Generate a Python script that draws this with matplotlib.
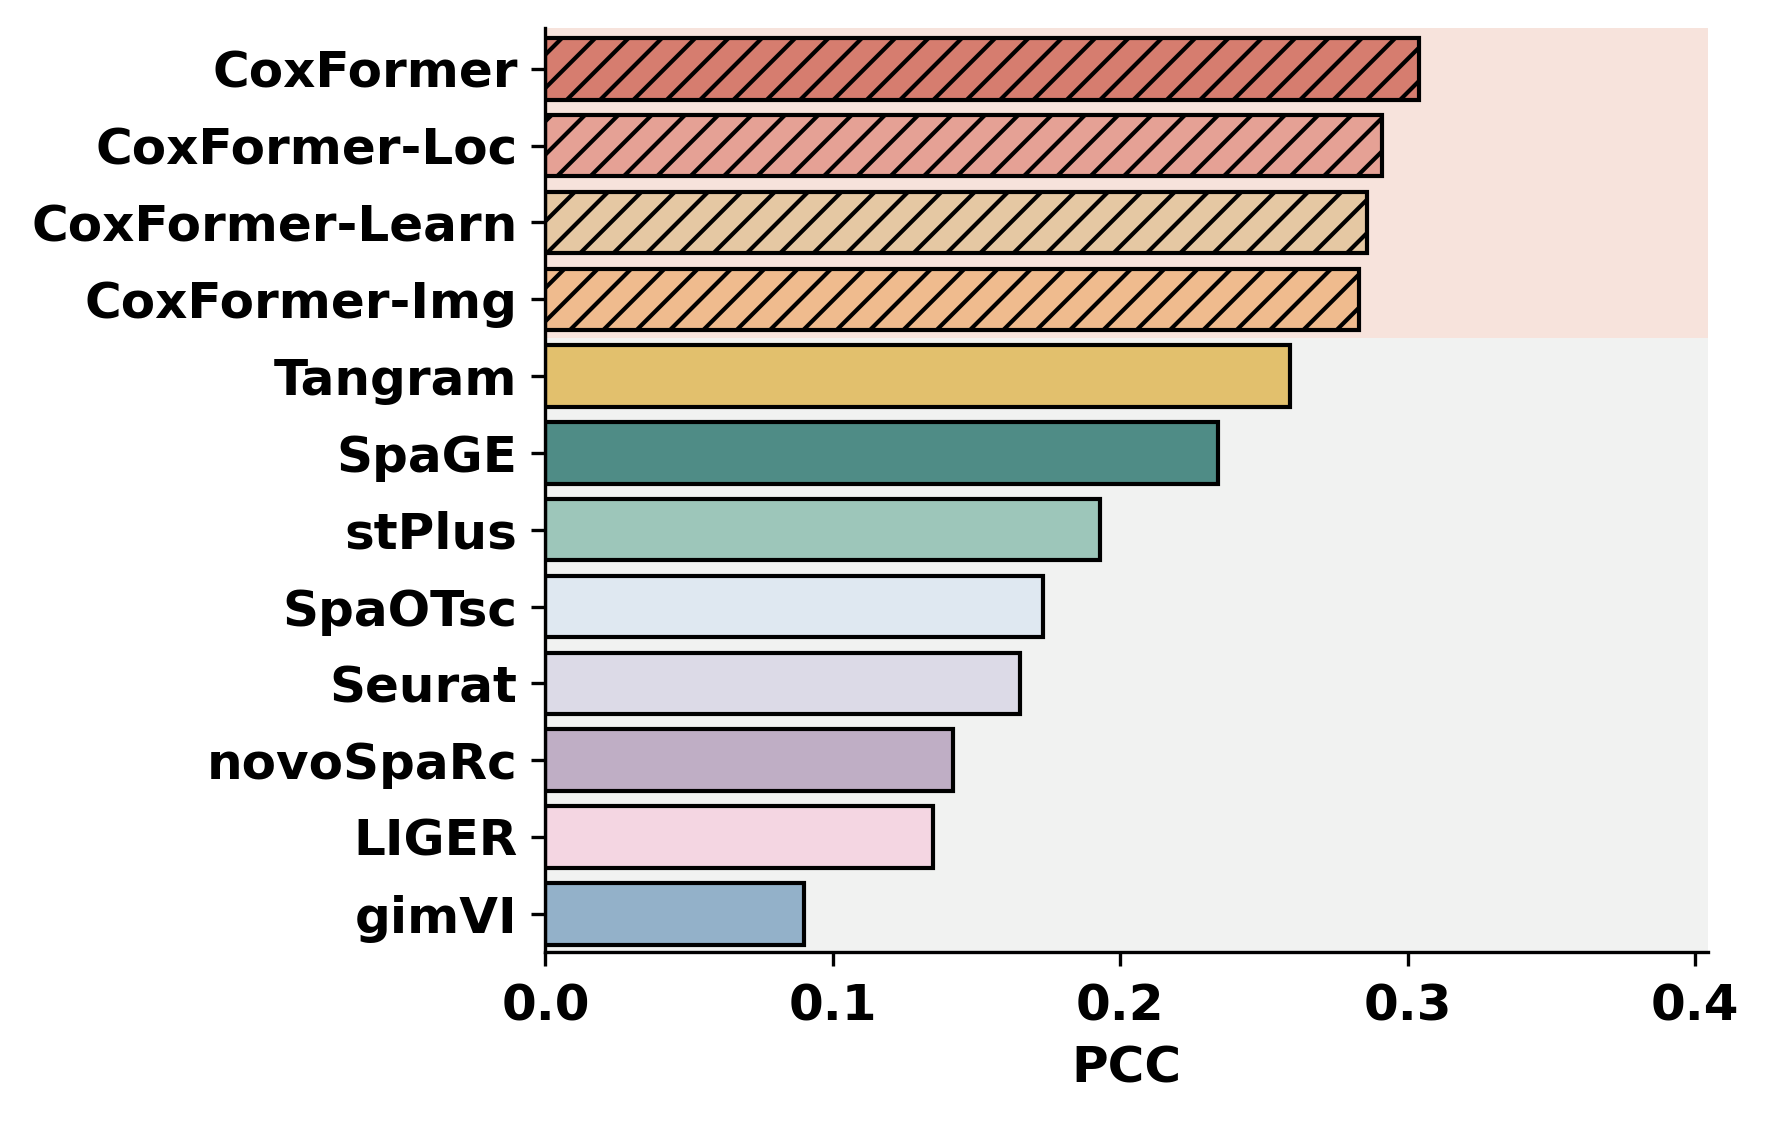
import matplotlib
matplotlib.use("Agg")
import matplotlib.pyplot as plt

methods = ["CoxFormer", "CoxFormer-Loc", "CoxFormer-Learn", "CoxFormer-Img",
           "Tangram", "SpaGE", "stPlus", "SpaOTsc", "Seurat", "novoSpaRc",
           "LIGER", "gimVI"]
pcc = [0.304, 0.291, 0.286, 0.283, 0.259, 0.234, 0.193, 0.173, 0.165, 0.142, 0.135, 0.090]
colors = ["#D67D6F", "#E5A195", "#E5C8A3", "#EFBB8E", "#E2C06D", "#4F8C86",
          "#9DC6BA", "#DFE8F1", "#DCDAE7", "#BFAEC5", "#F4D6E2", "#93B1C9"]
n_ours = 4

plt.rcParams.update({
    "font.family": "DejaVu Sans",
    "font.weight": "bold",
    "font.size": 18,
    "hatch.linewidth": 1.5,
})

fig = plt.figure(figsize=(1771 / 200, 1125 / 200), dpi=200)
ax = fig.add_axes([0.308, 0.1536, 0.9643 - 0.308, 0.975 - 0.1536])

pos = list(range(len(methods)))
ax.axhspan(-0.6, n_ours - 0.5, color="#F7E3DC", zorder=0, lw=0)
ax.axhspan(n_ours - 0.5, len(methods), color="#F1F2F1", zorder=0, lw=0)

for i, (m, v, c) in enumerate(zip(methods, pcc, colors)):
    ax.barh(i, v, height=0.8, color=c, edgecolor="black", linewidth=1.5,
            hatch="//" if i < n_ours else None, zorder=2)

ax.set_yticks(pos)
ax.set_yticklabels(methods, fontweight="bold")
ax.set_ylim(len(methods) - 0.5, -0.53)
ax.set_xlim(0, 0.4045)
ax.set_xticks([0.0, 0.1, 0.2, 0.3, 0.4])
ax.set_xticklabels(["0.0", "0.1", "0.2", "0.3", "0.4"], fontweight="bold")
ax.set_xlabel("PCC", fontweight="bold", labelpad=5)

for s in ["top", "right"]:
    ax.spines[s].set_visible(False)
for s in ["left", "bottom"]:
    ax.spines[s].set_linewidth(1.2)
ax.tick_params(width=1.2, length=5)
ax.tick_params(axis="y", pad=5)
ax.tick_params(axis="x", pad=6)

fig.savefig("out.png", dpi=200)
